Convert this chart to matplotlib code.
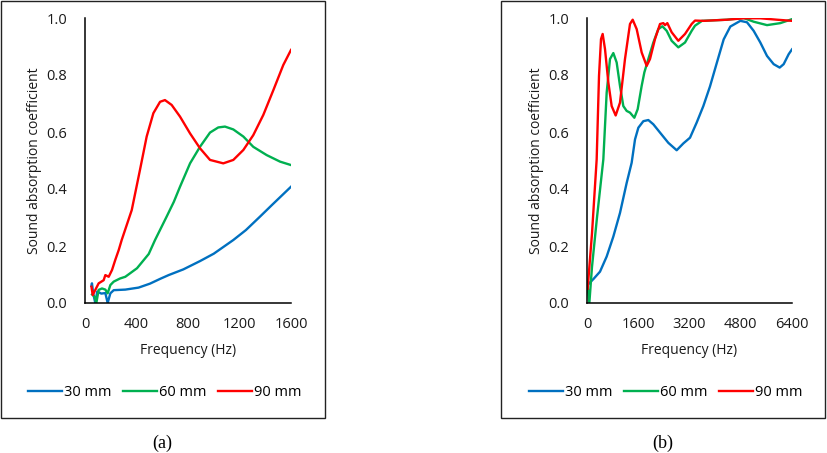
import matplotlib
matplotlib.use("Agg")
import matplotlib.pyplot as plt
from matplotlib.patches import Rectangle
from matplotlib.ticker import FormatStrFormatter

plt.rcParams['font.family'] = ['Open Sans', 'DejaVu Sans']

# ---------------- data: panel (a) ----------------
fa_30 = [50, 54, 64, 80, 95, 127, 158, 176, 197, 223, 313, 416, 505, 585, 650, 764, 893, 1000, 1152, 1250, 1359, 1450, 1600]
va_30 = [0.06, 0.069, 0.033, 0.0, 0.04, 0.033, 0.035, 0.0, 0.034, 0.045, 0.047, 0.054, 0.068, 0.085, 0.098, 0.118, 0.147, 0.173, 0.221, 0.256, 0.303, 0.343, 0.408]

fa_60 = [55, 75, 88, 106, 132, 158, 176, 197, 223, 272, 313, 404, 495, 544, 634, 690, 738, 816, 893, 971, 1035, 1087, 1152, 1230, 1307, 1411, 1515, 1600]
va_60 = [0.03, 0.022, 0.0, 0.046, 0.051, 0.047, 0.034, 0.063, 0.075, 0.086, 0.092, 0.122, 0.172, 0.221, 0.303, 0.355, 0.408, 0.49, 0.548, 0.598, 0.616, 0.619, 0.609, 0.584, 0.548, 0.519, 0.496, 0.484]

fa_90 = [50, 60, 80, 106, 145, 158, 184, 210, 235, 262, 285, 363, 427, 479, 531, 583, 621, 673, 738, 816, 893, 971, 1074, 1152, 1230, 1307, 1385, 1463, 1540, 1600]
va_90 = [0.057, 0.028, 0.046, 0.069, 0.08, 0.098, 0.092, 0.116, 0.151, 0.186, 0.221, 0.326, 0.467, 0.584, 0.666, 0.706, 0.712, 0.695, 0.654, 0.595, 0.543, 0.502, 0.49, 0.502, 0.537, 0.589, 0.66, 0.747, 0.835, 0.888]

# ---------------- data: panel (b) ----------------
fb_30 = [60, 208, 406, 614, 822, 1030, 1238, 1394, 1499, 1603, 1759, 1915, 2071, 2279, 2539, 2800, 3008, 3216, 3424, 3632, 3840, 4059, 4267, 4475, 4787, 4995, 5203, 5411, 5619, 5828, 6015, 6140, 6296, 6400]
vb_30 = [0.068, 0.085, 0.11, 0.163, 0.233, 0.316, 0.421, 0.492, 0.574, 0.615, 0.638, 0.642, 0.627, 0.598, 0.562, 0.536, 0.56, 0.58, 0.633, 0.691, 0.76, 0.845, 0.925, 0.97, 0.99, 0.985, 0.955, 0.914, 0.867, 0.838, 0.826, 0.838, 0.873, 0.89]

fb_60 = [20, 73, 156, 312, 510, 614, 718, 822, 926, 1030, 1134, 1238, 1342, 1478, 1582, 1707, 1790, 1915, 2071, 2227, 2352, 2488, 2643, 2851, 3060, 3268, 3372, 3590, 4371, 4891, 5203, 5620, 6036, 6400]
vb_60 = [0.056, 0.0, 0.127, 0.30, 0.504, 0.738, 0.856, 0.877, 0.844, 0.762, 0.691, 0.674, 0.668, 0.65, 0.68, 0.762, 0.809, 0.856, 0.914, 0.961, 0.971, 0.955, 0.92, 0.897, 0.914, 0.955, 0.973, 0.99, 0.994, 1.0, 0.987, 0.975, 0.982, 0.996]

fb_90 = [20, 156, 302, 375, 437, 489, 562, 666, 770, 895, 1030, 1186, 1342, 1426, 1551, 1707, 1863, 1967, 2123, 2279, 2383, 2435, 2508, 2643, 2851, 3060, 3268, 3372, 3642, 4371, 4891, 5411, 5932, 6400]
vb_90 = [0.05, 0.244, 0.504, 0.797, 0.926, 0.944, 0.891, 0.774, 0.691, 0.658, 0.703, 0.856, 0.979, 0.994, 0.961, 0.879, 0.832, 0.856, 0.926, 0.979, 0.982, 0.975, 0.982, 0.95, 0.92, 0.944, 0.979, 0.991, 0.99, 0.994, 0.999, 0.999, 0.994, 0.99]

series_labels = ["30 mm", "60 mm", "90 mm"]
colors = ["#0070C0", "#00B050", "#FF0000"]
xticks_a = [0, 400, 800, 1200, 1600]
xticks_b = [0, 1600, 3200, 4800, 6400]
yticks = [0.0, 0.2, 0.4, 0.6, 0.8, 1.0]
xlabel = "Frequency (Hz)"
ylabel = "Sound absorption coefficient"
captions = ["(a)", "(b)"]

W, H = 827, 453
fig = plt.figure(figsize=(W / 100, H / 100), dpi=100)

def fx(px):
    return px / W

def fy(py):
    return 1 - py / H

# panel frames
for x0, x1 in [(1, 325), (501, 825)]:
    fig.add_artist(Rectangle((fx(x0), fy(418)), fx(x1) - fx(x0), fy(1) - fy(418),
                             transform=fig.transFigure, fill=False, lw=1.0, ec="#222222"))

panels = [
    (85, 291, [fa_30, fa_60, fa_90], [va_30, va_60, va_90], xticks_a, 1600, 165, 162),
    (587, 792, [fb_30, fb_60, fb_90], [vb_30, vb_60, vb_90], xticks_b, 6400, 666, 663),
]

for i, (l, r, fs, vs, xt, xmax, legx, capx) in enumerate(panels):
    ax = fig.add_axes([fx(l), fy(303), fx(r) - fx(l), fy(18) - fy(303)])
    for f, v, c, lab in zip(fs, vs, colors, series_labels):
        ax.plot(f, v, color=c, lw=1.7, label=lab, solid_joinstyle='round')
    ax.set_xlim(0, xmax)
    ax.set_ylim(0, 1.0)
    ax.set_xticks(xt)
    ax.set_yticks(yticks)
    ax.yaxis.set_major_formatter(FormatStrFormatter('%.1f'))
    for s in ['top', 'right']:
        ax.spines[s].set_visible(False)
    for s in ['left', 'bottom']:
        ax.spines[s].set_linewidth(1.1)
        ax.spines[s].set_color('black')
    ax.tick_params(axis='both', length=0, labelsize=10.5, colors='#1a1a1a')
    ax.tick_params(axis='y', pad=13)
    ax.tick_params(axis='x', pad=10)
    ax.set_xlabel(xlabel, fontsize=10, color='#1a1a1a', labelpad=8)
    ax.set_ylabel(ylabel, fontsize=10, color='#1a1a1a', labelpad=3)
    ax.patch.set_alpha(0)
    fig.legend(*ax.get_legend_handles_labels(), loc='center', ncol=3,
               bbox_to_anchor=(fx(legx), fy(393)), frameon=False, fontsize=10.5,
               handlelength=2.3, handletextpad=0.15, columnspacing=0.8)
    fig.text(fx(capx), fy(443), captions[i], ha='center', va='center',
             fontsize=13, family='Liberation Serif')

fig.savefig("out.png", dpi=100)
